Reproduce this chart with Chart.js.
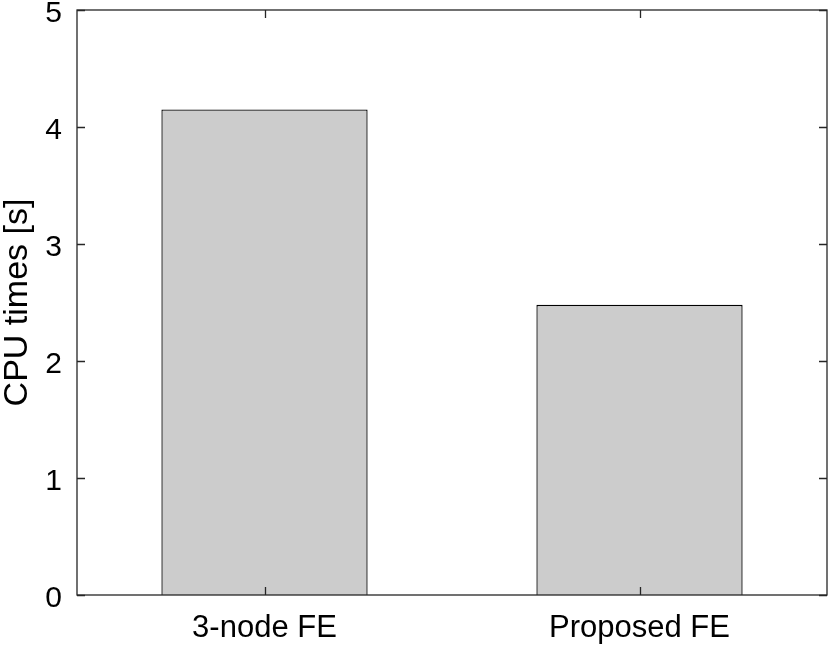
<!DOCTYPE html>
<html>
<head>
<meta charset="utf-8">
<script src="https://cdn.jsdelivr.net/npm/chart.js@4/dist/chart.umd.min.js"></script>
<style>
  html, body { margin: 0; padding: 0; background: #fff; }
  #wrap { width: 828px; height: 648px; }
</style>
</head>
<body>
<div id="wrap"><canvas id="c" width="828" height="648"></canvas></div>
<script>
// ── Data ──────────────────────────────────────────────────────────────────────
const categories = ['3-node FE', 'Proposed FE'];
const cpuTimes   = [4.15, 2.48];
const yTicks     = [0, 1, 2, 3, 4, 5];
const yTitle     = 'CPU times [s]';

// ── Style ─────────────────────────────────────────────────────────────────────
const FONT     = '"Liberation Sans", Arial, Helvetica, sans-serif';
const AXIS_CLR = '#262626';
const TICK_LEN = 8;
const FSIZE    = 30;

// MATLAB-style box with inward ticks
const boxPlugin = {
  id: 'box',
  afterDatasetsDraw(chart) {
    const { ctx, chartArea: a, scales } = chart;
    ctx.save();
    ctx.strokeStyle = AXIS_CLR;
    ctx.lineWidth = 1.3;
    ctx.strokeRect(a.left, a.top, a.right - a.left, a.bottom - a.top);
    ctx.beginPath();
    yTicks.forEach(v => {
      const y = Math.round(scales.y.getPixelForValue(v)) + 0.5;
      ctx.moveTo(a.left, y);  ctx.lineTo(a.left + TICK_LEN, y);
      ctx.moveTo(a.right, y); ctx.lineTo(a.right - TICK_LEN, y);
    });
    categories.forEach((c, i) => {
      const x = Math.round(scales.x.getPixelForValue(i)) + 0.5;
      ctx.moveTo(x, a.bottom); ctx.lineTo(x, a.bottom - TICK_LEN);
      ctx.moveTo(x, a.top);    ctx.lineTo(x, a.top + TICK_LEN);
    });
    ctx.stroke();
    ctx.restore();
  },
};

new Chart(document.getElementById('c'), {
  type: 'bar',
  data: {
    labels: categories,
    datasets: [{
      data: cpuTimes,
      backgroundColor: '#cccccc',
      borderColor: '#000000',
      borderWidth: 1.3,
      categoryPercentage: 1,
      barPercentage: 0.55,
    }],
  },
  options: {
    responsive: false,
    animation: false,
    layout: { padding: { top: 10, right: 1, left: 0, bottom: 0 } },
    plugins: { legend: { display: false }, tooltip: { enabled: false } },
    scales: {
      x: {
        grid: { display: false, drawTicks: false },
        border: { display: false },
        ticks: { color: '#000', font: { family: FONT, size: 31 }, padding: 15 },
        afterFit: s => { s.height = 53; s.paddingLeft = 0; s.paddingRight = 0; },
      },
      y: {
        min: 0, max: 5,
        afterBuildTicks: s => { s.ticks = yTicks.map(v => ({ value: v })); },
        grid: { display: false, drawTicks: false },
        border: { display: false },
        ticks: { color: '#000', font: { family: FONT, size: FSIZE }, padding: 15, labelOffset: 4 },
        title: { display: true, text: yTitle, color: '#000', font: { family: FONT, size: 34, lineHeight: 1 }, padding: { top: 1, bottom: 0 } },
        afterFit: s => { s.width = 77; s.paddingTop = 0; s.paddingBottom = 0; },
      },
    },
  },
  plugins: [boxPlugin],
});
</script>
</body>
</html>
